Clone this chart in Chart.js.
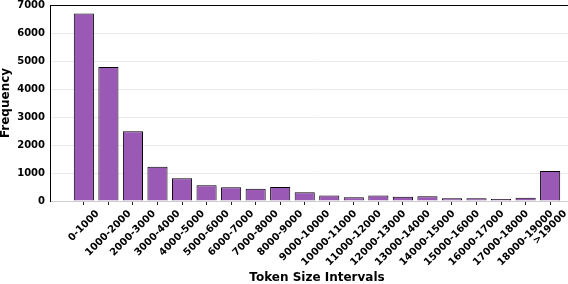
<!DOCTYPE html>
<html><head><meta charset="utf-8">
<script src="https://cdn.jsdelivr.net/npm/chart.js@4.4.1/dist/chart.umd.min.js"></script>
<style>
html,body{margin:0;padding:0;overflow:hidden;background:#fff;width:568px;height:284px}
#wrap{width:590px;height:284px}
</style></head>
<body><div id="wrap"><canvas id="c" width="590" height="284"></canvas></div>
<script>
const categories = ["0-1000","1000-2000","2000-3000","3000-4000","4000-5000","5000-6000","6000-7000","7000-8000","8000-9000","9000-10000","10000-11000","11000-12000","12000-13000","13000-14000","14000-15000","15000-16000","16000-17000","17000-18000","18000-19000",">19000"];
const frequencies = [6700,4790,2490,1220,810,560,490,440,500,310,200,130,200,150,170,100,100,70,120,1070];
const yTicks = [0,1000,2000,3000,4000,5000,6000,7000];
const xTitle = "Token Size Intervals";
const yTitle = "Frequency";

const FONT = '"DejaVu Sans", sans-serif';

const labelPlugin = {
  id: 'xlabels',
  afterDraw(chart) {
    const {ctx, chartArea} = chart;
    const xs = chart.scales.x;
    ctx.save();
    ctx.strokeStyle = '#000';
    ctx.lineWidth = 1;
    ctx.beginPath();
    ctx.moveTo(chartArea.left, Math.round(chartArea.top) + 0.5);
    ctx.lineTo(chartArea.right, Math.round(chartArea.top) + 0.5);
    ctx.stroke();
    ctx.font = 'bold 10px ' + FONT;
    ctx.fillStyle = '#000';
    ctx.textAlign = 'center';
    ctx.textBaseline = 'middle';
    const h = 11.6, top = chartArea.bottom + 7;
    categories.forEach((lab, i) => {
      const w = ctx.measureText(lab).width;
      const half = (w + h) / (2 * Math.SQRT2);
      const x = xs.getPixelForValue(i);
      ctx.save();
      ctx.translate(x, top + half);
      ctx.rotate(-Math.PI / 4);
      ctx.fillText(lab, 0, 0);
      ctx.restore();
    });
    ctx.restore();
  }
};

new Chart(document.getElementById('c'), {
  type: 'bar',
  data: {
    datasets: [{
      data: frequencies.map((v, i) => ({x: i, y: v})),
      backgroundColor: '#9b59b6',
      borderColor: '#000',
      borderWidth: 1,
      barPercentage: 0.82,
      categoryPercentage: 1
    }]
  },
  options: {
    responsive: false,
    animation: false,
    devicePixelRatio: 1,
    layout: {padding: {top: 5, right: 6, left: 0, bottom: 0}},
    plugins: {legend: {display: false}, tooltip: {enabled: false}},
    scales: {
      x: {
        type: 'linear',
        offset: false,
        min: -1.38,
        max: 20.38,
        afterBuildTicks: s => { s.ticks = categories.map((_, i) => ({value: i})); },
        afterFit: s => { s.height = 83; s.paddingLeft = 0; s.paddingRight = 0; },
        ticks: {display: false},
        grid: {display: true, offset: false, drawOnChartArea: false, drawTicks: true, tickLength: 4, tickColor: '#222', tickWidth: 1},
        border: {display: true, color: '#cccccc', width: 1},
        title: {display: true, text: xTitle, color: '#000', font: {family: FONT, size: 12, weight: 'bold', lineHeight: 1}, padding: 0}
      },
      y: {
        min: 0,
        max: 7000,
        afterBuildTicks: s => { s.ticks = yTicks.map(v => ({value: v})); },
        afterFit: s => { s.width = 50; s.paddingTop = 0; s.paddingBottom = 0; },
        ticks: {color: '#000', font: {family: FONT, size: 10, weight: 'bold'}, padding: 5, callback: v => String(v)},
        grid: {color: '#ebebeb', lineWidth: 1, drawTicks: false},
        border: {display: true, color: '#000', width: 1},
        title: {display: true, text: yTitle, color: '#000', font: {family: FONT, size: 12, weight: 'bold', lineHeight: 1}, padding: 0}
      }
    }
  },
  plugins: [labelPlugin]
});
</script>
</body></html>
